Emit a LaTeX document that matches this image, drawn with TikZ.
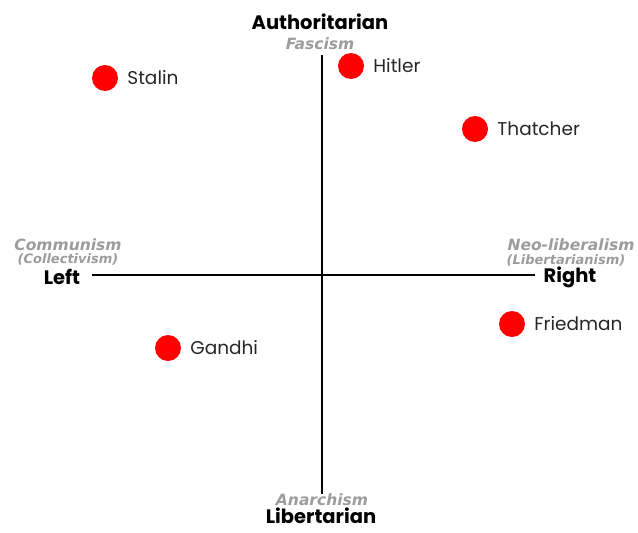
\documentclass[tikz,border=0pt]{standalone}
\usepackage{fontspec}
\setmainfont{Poppins}
\newfontfamily\ismfont{DejaVu Sans}
\usepackage{xcolor}
\definecolor{dotred}{HTML}{FF0000}
\definecolor{ismgray}{HTML}{9C9C9C}

\begin{document}
\begin{tikzpicture}[x=1pt, y=-1pt,
    every node/.style={inner sep=0pt, align=center},
    pole/.style={font=\fontsize{19.5}{20}\selectfont\bfseries},
    ism/.style={text=ismgray, font=\ismfont\fontsize{15.5}{15}\selectfont\bfseries\itshape},
    subism/.style={ism, font=\ismfont\fontsize{13}{13}\selectfont\bfseries\itshape},
    leader/.style={circle, fill=dotred, minimum size=26pt},
    who/.style={right=9pt, font=\fontsize{18.5}{19}\selectfont, text=black!85}]
    \useasboundingbox (0,0) rectangle (638,533);
    % axes
    \coordinate (top) at (322,55);
    \coordinate (bottom) at (322,494);
    \coordinate (westend) at (92,275);
    \coordinate (eastend) at (535,275);
    \draw [line width=2pt] (top) -- (bottom);
    \draw [line width=2pt] (westend) -- (eastend);
    % poles
    \node[pole] (auth) at (320,22) {Authoritarian};
    \node[ism] (fascism) at (320,44) {Fascism};
    \node[pole] (lib) at (321,516) {Libertarian};
    \node[ism] (anarchism) at (322,500) {Anarchism};
    \node[pole] (left) at (62,277) {Left};
    \node[ism] (communism) at (68,245) {Communism};
    \node[subism] (collect) at (68,259) {(Collectivism)};
    \node[pole] (right) at (570,277) {Right};
    \node[ism] (neolib) at (571,245) {Neo-liberalism};
    \node[subism] (libism) at (566,260) {(Libertarianism)};
    % people
    \node[leader] (stalin) at (105,78) {};
    \node[who] at (stalin.east) {Stalin};
    \node[leader] (hitler) at (351,66) {};
    \node[who] at (hitler.east) {Hitler};
    \node[leader] (thatcher) at (475,129) {};
    \node[who] at (thatcher.east) {Thatcher};
    \node[leader] (friedman) at (512,324) {};
    \node[who] at (friedman.east) {Friedman};
    \node[leader] (gandhi) at (168,348) {};
    \node[who] at (gandhi.east) {Gandhi};
\end{tikzpicture}
\end{document}
